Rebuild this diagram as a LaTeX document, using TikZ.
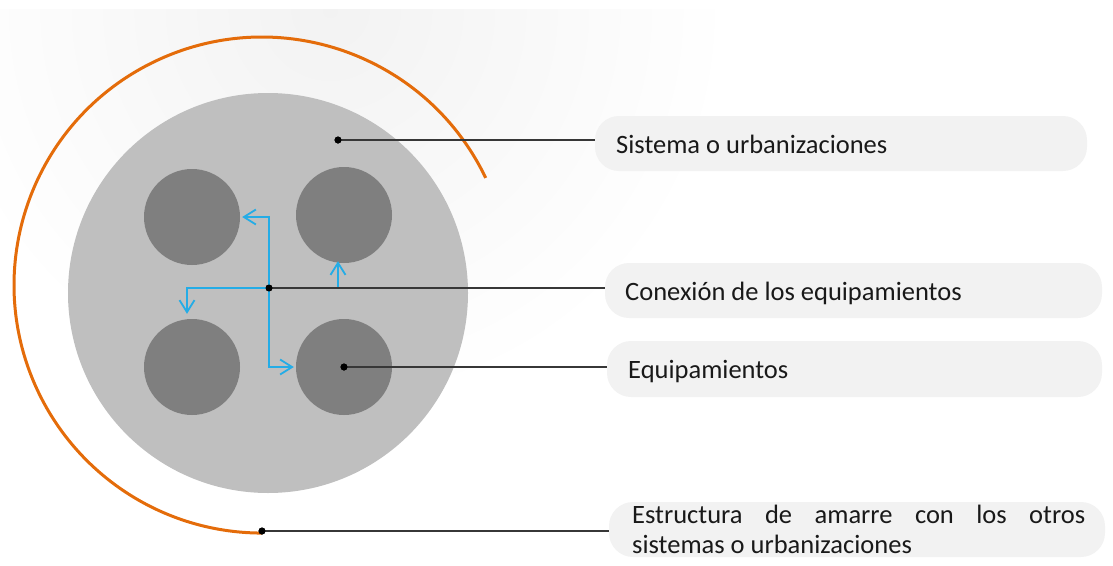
\documentclass[tikz,border=0pt]{standalone}
\usepackage{fontspec}
\setmainfont{Carlito}
\usetikzlibrary{arrows.meta}
\definecolor{orangeC}{RGB}{228,108,10}
\definecolor{blueC}{RGB}{36,172,230}
\definecolor{ringC}{RGB}{191,191,191}
\definecolor{eqC}{RGB}{127,127,127}
\definecolor{pillC}{RGB}{242,242,242}
\definecolor{leadC}{RGB}{55,55,55}
\begin{document}
\begin{tikzpicture}[x=1pt,y=-1pt,
  pill/.style={fill=pillC, rounded corners=24pt, inner sep=0pt},
  eqp/.style={circle, fill=eqC, minimum size=96pt, inner sep=0pt},
  lead/.style={draw=leadC, line width=2.5pt},
  dotp/.style={circle, fill=black, minimum size=7pt, inner sep=0pt},
  conn/.style={draw=blueC, line width=1.8pt, -{Straight Barb[length=12pt,width=15pt,line width=1.8pt]}},
  lbl/.style={anchor=base west, inner sep=0pt, font=\fontsize{26.5}{30}\selectfont, text=black!90}
]
\useasboundingbox (0,0) rectangle (1113,565);
% background
\begin{scope}
\clip (0,9) rectangle (1113,565);
\shade[inner color=black!5, outer color=white] (330,10) circle[radius=400];
\end{scope}
% system circle
\node[circle, fill=ringC, minimum size=400pt, inner sep=0pt] (sys) at (268,293) {};
% equipment circles
\node[eqp] (c1) at (192,217) {};
\node[eqp] (c2) at (344,215) {};
\node[eqp] (c3) at (192,367) {};
\node[eqp] (c4) at (344,367) {};
% orange tie structure
\draw[orangeC, line width=3pt] (485.7,177.9) arc[start angle=-25.6, end angle=-270, radius=248];
% dots
\node[dotp] (d1) at (338,140) {};
\node[dotp] (hub) at (269,288) {};
\node[dotp] (d3) at (344,367) {};
\node[dotp] (d4) at (262,531) {};
% label boxes
\node[pill, minimum width=492pt, minimum height=55pt] (b1) at (841,143.5) {};
\node[pill, minimum width=497pt, minimum height=55pt] (b2) at (853.5,290.5) {};
\node[pill, minimum width=495pt, minimum height=56pt] (b3) at (854.5,369) {};
\node[pill, minimum width=496pt, minimum height=55pt] (b4) at (857,529.5) {};
% texts
\node[lbl] (t1) at (616,153) {Sistema o urbanizaciones};
\node[lbl] (t2) at (625,300) {Conexión de los equipamientos};
\node[lbl] (t3) at (628,378) {Equipamientos};
\node[lbl] (t4) at (632,523) {\parbox[t]{453pt}{\makebox[453pt][s]{Estructura de amarre con los otros}\\sistemas o urbanizaciones}};
% blue connections
\draw[conn] (hub.center) |- ([xshift=2pt]c1.east);
\draw[conn] (hub.center) |- ([shift={(-2,0)}]c4.west);
\draw[conn] (hub.center) -| ([shift={(-5,-5)}]c3.north);
\draw[conn] (hub.center) -| ([shift={(-6,-2)}]c2.south);
% leaders
\draw[lead] (d1.center) -- (d1.center -| b1.west);
\draw[lead] (hub.center) -- (hub.center -| b2.west);
\draw[lead] (d3.center) -- (d3.center -| b3.west);
\draw[lead] (d4.center) -- (d4.center -| b4.west);
% redraw dots on top
\fill[black] (d1) circle[radius=3.5];
\fill[black] (hub) circle[radius=3.5];
\fill[black] (d3) circle[radius=3.5];
\fill[black] (d4) circle[radius=3.5];
\end{tikzpicture}
\end{document}
